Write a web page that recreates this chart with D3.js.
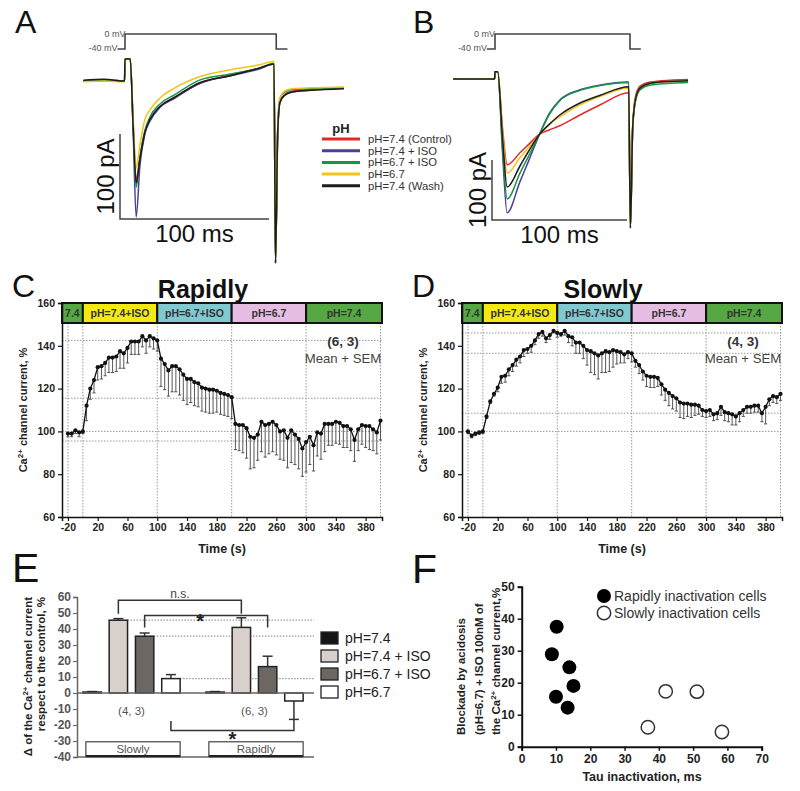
<!DOCTYPE html>
<html><head><meta charset="utf-8">
<script src="https://cdn.jsdelivr.net/npm/d3@7"></script>
<style>body{margin:0;background:#fff} svg{display:block;font-family:"Liberation Sans",Arial,sans-serif}</style>
</head><body><svg id="fig" width="800" height="791"></svg>
<script>
// ================= DATA =================
// Panels A/B: legend & traces
const legendLabels = ["pH=7.4 (Control)","pH=7.4 + ISO","pH=6.7 + ISO","pH=6.7","pH=7.4 (Wash)"];
const protoTimesA = [-5, 0, 0, 101.5, 101.5, 109];
const protoTimesB = [-6, 0, 0, 100, 100, 108];
const protoMv = [-40, -40, 0, 0, -40, -40];

const timeA = [-28,-14,-0.3,0,3.5,5.5,7.5,10,13.4,16.8,23.5,33.5,50,70,90,100,101,102.5,104,107,112,125,147];
const A_control = [0,1,0,26,26,-50,-116,-90,-60,-46,-30,-19,-3,7,15,20,-214,-60,-25,-16,-12,-10,-8];
const A_iso74   = [0,1,0,26,26,-60,-160,-100,-62,-47,-31,-20,-3,6,14,20,-214,-60,-25,-17,-13,-10,-8];
const A_iso67   = [0,0,0,26,26,-55,-125,-90,-58,-42,-27,-16,1,8,15,21,-214,-55,-20,-13,-10,-9,-8];
const A_ph67    = [-1,0,-1,26,26,-45,-102,-75,-45,-34,-20,-8,5,13,19,23,-214,-55,-20,-12,-9,-8,-7];
const A_wash    = [1,2,0,26,26,-55,-120,-92,-60,-45,-30,-19,-2,6,15,20,-214,-60,-25,-17,-13,-11,-9];

const timeB = [-31,-15,-0.3,0,2,5.5,9,18.5,25,33,40,48,63,78,99,100.3,102,104,107.5,115,130,143];
const B_control = [0,0,0,12,12,-80,-143,-123,-109,-92,-85,-78,-60,-43,-23,-248,-80,-30,-12,-5,-2,-1];
const B_iso74   = [0,0,0,12,12,-120,-223,-171,-136,-92,-58,-35,-18,-10,-5,-248,-80,-35,-15,-7,-4,-3];
const B_iso67   = [0,0,0,12,12,-110,-200,-157,-128,-92,-60,-36,-19,-11,-6,-248,-80,-38,-18,-10,-7,-6];
const B_ph67    = [0,0,0,12,12,-85,-157,-131,-114,-92,-76,-63,-43,-29,-15,-248,-80,-35,-15,-7,-4,-3];
const B_wash    = [0,0,0,12,12,-95,-180,-145,-120,-92,-76,-60,-40,-27,-13,-248,-80,-35,-15,-7,-4,-3];

// Panels C/D: time course
const timeCD = [-20,-15,-10,-5,0,5,10,15,20,25,30,35,40,45,50,55,60,65,70,75,80,85,90,95,100,
 105,110,115,120,125,130,135,140,145,150,155,160,165,170,175,180,185,190,195,200,
 205,210,215,220,225,230,235,240,245,250,255,260,265,270,275,280,285,290,295,300,
 305,310,315,320,325,330,335,340,345,350,355,360,365,370,375,380,385,390,395,400];
const C_mean = [99,99,100.5,99.5,100,
 112,120,124,130,130.5,132,134.5,134.5,135,137.5,136.5,139,142,142,142,144.5,142.5,144.5,143.5,142.5,
 134,131.5,128.5,130.5,130.5,129,126.5,124.5,124.5,123,122.5,120.5,120,119.5,119.5,119,118,117.5,117,116,
 103.5,103,103,101.5,97.5,97,98.5,104.5,103,103.5,104.5,103,100,100.5,97,100.5,98.5,96.5,92,95,
 97.5,93.5,99.5,99,103.5,103.5,103.5,104.5,104,102.5,102.5,101,96,101,103,102.5,102.5,101,99.5,105];
const C_sem = [1.5,1.5,1.5,2,1,
 7,5,6,6,6,6,7,7,7,8,7,7,6,6,6,5,6,5,5,5,
 13,12,12,12,12,12,12,12,11,11,11,11,11,11,11,10,10,10,10,10,
 12,12,13,14,15,14,12,14,15,14,14,14,13,14,14,15,14,14,13,14,
 13,12,11,12,13,10,10,10,10,10,10,10,10,10,9,10,11,10,10,9];
const D_mean = [100,98,99,99.5,100,
 107,114,117.5,120.5,125.5,126,129,131,133.5,135,138,138.5,140,142.5,145.5,146.5,143.5,145,147,146,
 145.5,147,144.5,144,141.5,141.5,140,138,137.5,136.5,135.5,136.5,137.5,137,138,137.5,137,136,137,136.5,
 133,131,128,126,125.5,125.5,125,122,119.5,118,116.5,115.5,113.5,113,113,112.5,112.5,112,110,109.5,
 110,108,108.5,111.5,109,108.5,108,107,108.5,110,111.5,111.5,112,112,108.5,111.5,115,116.5,116,117.5];
const D_sem = [1,1,1,1,1,
 1,1,1,2,3,3,3,3,3,3,3,2,3,2,2,2,2,2,1,2,
 1,2,3,4,5,5,6,7,10,10,11,9,10,9,8,6,5,4,3,4,
 3,4,4,5,5,5,4,5,5,6,6,6,7,7,6,6,5,4,3,3,
 3,3,3,4,4,4,5,4,4,3,3,3,3,3,4,8,3,3,3,3];
const bandStart = [-28, 0, 100, 200, 300];
const bandEnd = [0, 100, 200, 300, 402];
const bandLabels = ["7.4","pH=7.4+ISO","pH=6.7+ISO","pH=6.7","pH=7.4"];
const timeTicks = [-20,20,60,100,140,180,220,260,300,340,380];
const pctTicks = [60,80,100,120,140,160];
const vLines = [-20,0,100,200,300,400];
const C_refs = [142.5,115.5,100,95.5];
const D_refs = [146,136.5,108.5,100];

// Panel E
const groupsE = ["Slowly","Rapidly"];
const condsE = ["pH=7.4","pH=7.4 + ISO","pH=6.7 + ISO","pH=6.7"];
const slowlyMeans = [0.6,45.5,35.5,9];
const slowlySEM = [0.3,1,2,2.5];
const rapidlyMeans = [0.6,41,16.5,-5];
const rapidlySEM = [0.3,6,6.5,11.5];
const nLabelsE = ["(4, 3)","(6, 3)"];
const ticksE = [60,50,40,30,20,10,0,-10,-20,-30,-40];

// Panel F
const rapidTau = [10.2,8.8,13.9,15.1,10,13.4];
const rapidBlock = [37.5,28.9,24.8,19,15.6,12.2];
const slowTau = [42,51.1,36.8,58.4];
const slowBlock = [17.3,17.2,6.1,4.6];
const ticksFx = [0,10,20,30,40,50,60,70];
const ticksFy = [0,10,20,30,40,50];

// ================= STYLE =================
const traceColors = ["#e3262a","#4b3f98","#179548","#f4c417","#1d1d1d"];
const bandColors = ["#55a843","#f3ea14","#80c9d1","#e5bde2","#55a843"];
const barColors = ["#151515","#d9cfcb","#6d6764","#ffffff"];
const FF = '"Liberation Sans",Arial,sans-serif';
const plain = d => String(d);

const svg = d3.select("#fig");

function letter(x,y,t,size){
  svg.append("text").attr("x",x).attr("y",y).attr("font-size",size).attr("fill","#111").text(t);
}

// ================= A / B =================
function drawTraces(cfg){
  const g = svg.append("g");
  const xs = d3.scaleLinear().domain([0,100]).range(cfg.xr);
  const ys = d3.scaleLinear().domain([0,-100]).range(cfg.yr);
  const vy = d3.scaleLinear().domain([-40,0]).range([49,34]);
  const pl = d3.line().x(d=>xs(d[0])).y(d=>vy(d[1]));
  g.append("path").attr("d",pl(cfg.proto.map((t,i)=>[t,protoMv[i]])))
   .attr("fill","none").attr("stroke","#444").attr("stroke-width",1.6);
  g.append("text").attr("x",xs(cfg.proto[0])+1).attr("y",37).attr("text-anchor","end")
   .attr("font-size",9).attr("fill","#555").text("0 mV").attr("dx",7);
  g.append("text").attr("x",xs(cfg.proto[0])).attr("y",51).attr("text-anchor","end")
   .attr("font-size",9).attr("fill","#555").text("-40 mV");
  const line = d3.line().x(d=>xs(d[0])).y(d=>ys(d[1])).curve(d3.curveMonotoneX);
  cfg.series.forEach((s,i)=>{
    g.append("path").attr("d",line(cfg.time.map((t,j)=>[t,s[j]])))
     .attr("fill","none").attr("stroke",traceColors[i]).attr("stroke-width",1.5)
     .attr("stroke-linejoin","round");
  });
  const sx = cfg.barX, sy = cfg.barY;
  const lenV = ys(-100)-ys(0), lenH = xs(100)-xs(0);
  g.append("path").attr("d",`M${sx},${sy-lenV}V${sy}H${sx+lenH}`)
   .attr("fill","none").attr("stroke","#444").attr("stroke-width",1.5);
  g.append("text").attr("transform",`translate(${sx-6},${sy-lenV/2}) rotate(-90)`)
   .attr("text-anchor","middle").attr("font-size",24).attr("fill","#111").text("100 pA");
  g.append("text").attr("x",sx+lenH/2).attr("y",sy+23).attr("text-anchor","middle")
   .attr("font-size",24).attr("fill","#111").text("100 ms");
}
letter(15,33,"A",32);
letter(413,33,"B",32);
drawTraces({xr:[125,274], yr:[81,166], time:timeA, proto:protoTimesA,
  series:[A_control,A_iso74,A_iso67,A_ph67,A_wash], barX:120, barY:219});
drawTraces({xr:[495,630], yr:[79,139], time:timeB, proto:protoTimesB,
  series:[B_control,B_iso74,B_iso67,B_ph67,B_wash], barX:492, barY:220});

// legend A
{
  const g = svg.append("g");
  g.append("text").attr("x",341).attr("y",133).attr("text-anchor","middle")
   .attr("font-size",13).attr("font-weight","bold").attr("fill","#222").text("pH");
  legendLabels.forEach((l,i)=>{
    const yy = 139 + i*11.7;
    g.append("line").attr("x1",322).attr("x2",360).attr("y1",yy).attr("y2",yy)
     .attr("stroke",traceColors[i]).attr("stroke-width",3);
    g.append("text").attr("x",368).attr("y",yy+4).attr("font-size",11.3).attr("fill","#333").text(l);
  });
}

// ================= C / D =================
function drawCourse(ox, title, mean, sem, refs, nText){
  const g = svg.append("g").attr("transform",`translate(${ox},0)`);
  const x = d3.scaleLinear().domain([-28,402]).range([62,382]);
  const y = d3.scaleLinear().domain([60,160]).range([517,303]);
  const stripTop = y(160), stripBot = y(160)+20;
  g.append("text").attr("x",203).attr("y",298).attr("text-anchor","middle")
   .attr("font-size",25).attr("font-weight","bold").attr("fill","#111").text(title);
  vLines.forEach(t=>{
    g.append("line").attr("x1",x(t)).attr("x2",x(t)).attr("y1",stripBot).attr("y2",y(60))
     .attr("stroke","#999").attr("stroke-width",1).attr("stroke-dasharray","1.5,1.5");
  });
  refs.forEach(v=>{
    g.append("line").attr("x1",x(-28)).attr("x2",x(402)).attr("y1",y(v)).attr("y2",y(v))
     .attr("stroke","#999").attr("stroke-width",1).attr("stroke-dasharray","1.5,1.5");
  });
  bandStart.forEach((s,i)=>{
    g.append("rect").attr("x",x(s)).attr("y",stripTop).attr("width",x(bandEnd[i])-x(s))
     .attr("height",stripBot-stripTop).attr("fill",bandColors[i]).attr("stroke","#111").attr("stroke-width",2);
    g.append("text").attr("x",(x(s)+x(bandEnd[i]))/2).attr("y",stripTop+14).attr("text-anchor","middle")
     .attr("font-size",10.5).attr("font-weight","bold").attr("fill","#333").text(bandLabels[i]);
  });
  const ya = g.append("g").attr("transform",`translate(${x(-28)},0)`)
    .call(d3.axisLeft(y).tickValues(pctTicks).tickFormat(plain).tickSize(4).tickPadding(3));
  const xa = g.append("g").attr("transform",`translate(0,${y(60)})`)
    .call(d3.axisBottom(x).tickValues(timeTicks).tickFormat(plain).tickSize(4).tickPadding(3));
  [ya,xa].forEach(a=>{
    a.selectAll("path").attr("stroke","#111").attr("stroke-width",1.5);
    a.selectAll("line").attr("stroke","#111").attr("stroke-width",1.2);
    a.selectAll("text").attr("font-size",10.5).attr("font-weight","bold").attr("fill","#222")
     .attr("font-family",FF);
  });
  const yl = g.append("text").attr("transform",`translate(27,410) rotate(-90)`)
    .attr("text-anchor","middle").attr("font-size",11).attr("font-weight","bold").attr("fill","#222");
  yl.append("tspan").text("Ca");
  yl.append("tspan").attr("dy",-4).attr("font-size",8).text("2+");
  yl.append("tspan").attr("dy",4).text(" channel current, %");
  g.append("text").attr("x",222).attr("y",553).attr("text-anchor","middle")
   .attr("font-size",12.5).attr("font-weight","bold").attr("fill","#222").text("Time (s)");
  timeCD.forEach((t,i)=>{
    const x0 = x(t), y0 = y(mean[i]), y1 = y(mean[i]-sem[i]);
    g.append("line").attr("x1",x0).attr("x2",x0).attr("y1",y0).attr("y2",y1)
     .attr("stroke","#444").attr("stroke-width",0.9);
    g.append("line").attr("x1",x0-1.6).attr("x2",x0+1.6).attr("y1",y1).attr("y2",y1)
     .attr("stroke","#444").attr("stroke-width",0.9);
  });
  const line = d3.line().x((d,i)=>x(timeCD[i])).y(d=>y(d));
  g.append("path").attr("d",line(mean)).attr("fill","none").attr("stroke","#111").attr("stroke-width",1.3);
  g.selectAll("circle.pt").data(mean).enter().append("circle")
   .attr("cx",(d,i)=>x(timeCD[i])).attr("cy",d=>y(d)).attr("r",2.1).attr("fill","#111");
  g.append("text").attr("x",343).attr("y",346).attr("text-anchor","middle")
   .attr("font-size",13.5).attr("font-weight","bold").attr("fill","#333").text(nText);
  g.append("text").attr("x",343).attr("y",363).attr("text-anchor","middle")
   .attr("font-size",13.2).attr("fill","#444").text("Mean + SEM");
}
letter(12,297,"C",32);
letter(412,297,"D",32);
drawCourse(0,"Rapidly",C_mean,C_sem,C_refs,"(6, 3)");
drawCourse(400,"Slowly",D_mean,D_sem,D_refs,"(4, 3)");

// ================= E =================
letter(12,582,"E",41);
{
  const g = svg.append("g");
  const y = d3.scaleLinear().domain([-40,60]).range([757,597]);
  const x0 = d3.scaleBand().domain(groupsE).range([70,316]);
  const x1 = d3.scaleBand().domain(condsE).range([0,x0.bandwidth()]).paddingInner(0.3).paddingOuter(0.49);
  const xRight = 314;
  const means = [slowlyMeans, rapidlyMeans], sems = [slowlySEM, rapidlySEM];
  [1,2,3].forEach(k=>{
    g.append("line").attr("x1",x0("Slowly")+x1(condsE[k])+x1.bandwidth()).attr("x2",xRight)
     .attr("y1",y(slowlyMeans[k])).attr("y2",y(slowlyMeans[k]))
     .attr("stroke","#999").attr("stroke-width",1.2).attr("stroke-dasharray","1.5,1.5");
  });
  const ya = g.append("g").attr("transform",`translate(77,0)`)
    .call(d3.axisLeft(y).tickValues(ticksE).tickFormat(plain).tickSize(4).tickPadding(2));
  ya.selectAll("path").attr("stroke","#666").attr("stroke-width",1.5);
  ya.selectAll("line").attr("stroke","#666").attr("stroke-width",1.2);
  ya.selectAll("text").attr("font-size",12).attr("font-weight","bold").attr("fill","#555").attr("font-family",FF);
  g.append("line").attr("x1",77).attr("x2",xRight).attr("y1",y(-40)).attr("y2",y(-40))
   .attr("stroke","#666").attr("stroke-width",1.5);
  groupsE.forEach((gr,gi)=>{
    condsE.forEach((c,ci)=>{
      const v = means[gi][ci], e = sems[gi][ci];
      const bx = x0(gr)+x1(c), bw = x1.bandwidth(), cx = bx+bw/2;
      const ye = y(v + (v>=0?e:-e));
      g.append("line").attr("x1",cx).attr("x2",cx).attr("y1",y(v)).attr("y2",ye)
       .attr("stroke","#333").attr("stroke-width",1.5);
      g.append("line").attr("x1",cx-5).attr("x2",cx+5).attr("y1",ye).attr("y2",ye)
       .attr("stroke","#333").attr("stroke-width",1.5);
      g.append("rect").attr("x",bx).attr("y",Math.min(y(v),y(0))).attr("width",bw)
       .attr("height",Math.abs(y(v)-y(0))).attr("fill",barColors[ci]).attr("stroke","#222").attr("stroke-width",1.5);
    });
    g.append("text").attr("x",x0(gr)+x0.bandwidth()/2).attr("y",y(-13.5)).attr("text-anchor","middle")
     .attr("font-size",11.5).attr("fill","#555").text(nLabelsE[gi]);
    const bx0 = x0(gr)+x1(condsE[0])+3, bx1 = x0(gr)+x1(condsE[3])+x1.bandwidth();
    g.append("rect").attr("x",bx0).attr("y",y(-30.5)).attr("width",bx1-bx0).attr("height",y(-39.5)-y(-30.5))
     .attr("fill","#fff").attr("stroke","#333").attr("stroke-width",1.1);
    g.append("line").attr("x1",bx0).attr("x2",bx1).attr("y1",y(-39.5)).attr("y2",y(-39.5))
     .attr("stroke","#222").attr("stroke-width",2.2);
    g.append("text").attr("x",(bx0+bx1)/2).attr("y",y(-37.3)).attr("text-anchor","middle")
     .attr("font-size",11.5).attr("fill","#555").text(gr);
  });
  g.append("line").attr("x1",77).attr("x2",xRight).attr("y1",y(0)).attr("y2",y(0))
   .attr("stroke","#666").attr("stroke-width",1.5);
  const cxOf = (gr,ci)=>x0(gr)+x1(condsE[ci])+x1.bandwidth()/2;
  function bracket(xa,xb,yTop,yA,yB){
    g.append("path").attr("d",`M${xa},${y(yA)}V${y(yTop)}H${xb}V${y(yB)}`)
     .attr("fill","none").attr("stroke","#333").attr("stroke-width",1.5);
  }
  bracket(cxOf("Slowly",1),cxOf("Rapidly",1),58,49.5,49.5);
  g.append("text").attr("x",(cxOf("Slowly",1)+cxOf("Rapidly",1))/2).attr("y",y(59.5))
   .attr("text-anchor","middle").attr("font-size",12).attr("fill","#444").text("n.s.");
  bracket(cxOf("Slowly",2),cxOf("Rapidly",2),48.5,41,41);
  g.append("text").attr("x",(cxOf("Slowly",2)+cxOf("Rapidly",2))/2-6).attr("y",y(40.5))
   .attr("text-anchor","middle").attr("font-size",20).attr("font-weight","bold").attr("fill","#222").text("*");
  bracket(cxOf("Slowly",3),cxOf("Rapidly",3),-23.5,-17.5,-16.5);
  g.append("text").attr("x",(cxOf("Slowly",3)+cxOf("Rapidly",3))/2).attr("y",y(-30.5)+4)
   .attr("text-anchor","middle").attr("font-size",20).attr("font-weight","bold").attr("fill","#222").text("*");
  const l1 = g.append("text").attr("transform",`translate(32,597) rotate(-90)`)
    .attr("text-anchor","end").attr("font-size",11.5).attr("font-weight","bold").attr("fill","#222");
  l1.append("tspan").text("\u0394 of the Ca");
  l1.append("tspan").attr("dy",-4).attr("font-size",8).text("2+");
  l1.append("tspan").attr("dy",4).text(" channel current");
  g.append("text").attr("transform",`translate(45,597) rotate(-90)`)
    .attr("text-anchor","end").attr("font-size",11.5).attr("font-weight","bold").attr("fill","#222")
    .text("respect to the control, %");
  condsE.forEach((c,i)=>{
    const yy = 638 + i*18;
    g.append("rect").attr("x",321).attr("y",yy-6).attr("width",17).attr("height",12)
     .attr("fill",barColors[i]).attr("stroke","#222").attr("stroke-width",1.3);
    g.append("text").attr("x",345).attr("y",yy+5).attr("font-size",14).attr("fill","#222").text(c);
  });
}

// ================= F =================
letter(412,583,"F",41);
{
  const g = svg.append("g");
  const x = d3.scaleLinear().domain([0,70]).range([521.7,761.7]);
  const y = d3.scaleLinear().domain([0,50]).range([746.7,586.7]);
  const xa = g.append("g").attr("transform",`translate(0,${y(0)})`)
    .call(d3.axisBottom(x).tickValues(ticksFx).tickFormat(plain).tickSize(4).tickPadding(4));
  const ya = g.append("g").attr("transform",`translate(${x(0)},0)`)
    .call(d3.axisLeft(y).tickValues(ticksFy).tickFormat(plain).tickSize(4).tickPadding(3));
  [xa,ya].forEach(a=>{
    a.selectAll("path").attr("stroke","#111").attr("stroke-width",2);
    a.selectAll("line").attr("stroke","#111").attr("stroke-width",1.5);
    a.selectAll("text").attr("font-size",12).attr("font-weight","bold").attr("fill","#222").attr("font-family",FF);
  });
  rapidTau.forEach((t,i)=>{
    g.append("circle").attr("cx",x(t)).attr("cy",y(rapidBlock[i])).attr("r",7).attr("fill","#000");
  });
  slowTau.forEach((t,i)=>{
    g.append("circle").attr("cx",x(t)).attr("cy",y(slowBlock[i])).attr("r",6.7)
     .attr("fill","#fff").attr("stroke","#333").attr("stroke-width",1.5);
  });
  g.append("circle").attr("cx",604).attr("cy",596).attr("r",7).attr("fill","#000");
  g.append("text").attr("x",614).attr("y",601).attr("font-size",14).attr("fill","#333").text("Rapidly inactivation cells");
  g.append("circle").attr("cx",604).attr("cy",613).attr("r",6.7).attr("fill","#fff").attr("stroke","#333").attr("stroke-width",1.5);
  g.append("text").attr("x",614).attr("y",618).attr("font-size",14).attr("fill","#333").text("Slowly inactivation cells");
  g.append("text").attr("x",642).attr("y",781).attr("text-anchor","middle")
   .attr("font-size",12.5).attr("font-weight","bold").attr("fill","#222").text("Tau inactivation, ms");
  g.append("text").attr("transform","translate(465,735) rotate(-90)").attr("font-size",11.5)
   .attr("font-weight","bold").attr("fill","#222").text("Blockade by acidosis");
  g.append("text").attr("transform","translate(483,735) rotate(-90)").attr("font-size",11.5)
   .attr("font-weight","bold").attr("fill","#222").text("(pH=6.7) + ISO 100nM of");
  const l3 = g.append("text").attr("transform","translate(500,735) rotate(-90)").attr("font-size",11.5)
   .attr("font-weight","bold").attr("fill","#222");
  l3.append("tspan").text("the Ca");
  l3.append("tspan").attr("dy",-4).attr("font-size",8).text("2+");
  l3.append("tspan").attr("dy",4).text(" channel current,%");
}
</script></body></html>
